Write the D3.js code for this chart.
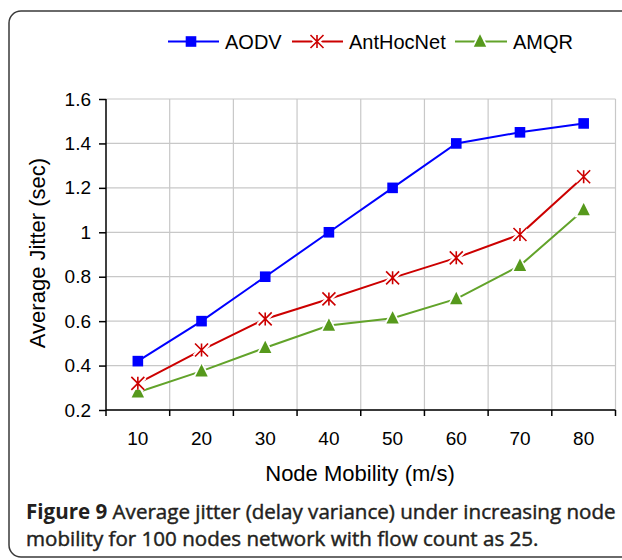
<!DOCTYPE html>
<html>
<head>
<meta charset="utf-8">
<script src="https://cdn.jsdelivr.net/npm/d3@7"></script>
<style>
  html, body { margin: 0; padding: 0; background: #fff; }
  svg { display: block; }
</style>
</head>
<body>
<svg id="chart" width="622" height="560"></svg>
<script>
// ---- data ----
const categories = [10, 20, 30, 40, 50, 60, 70, 80];
const aodv       = [0.42, 0.60, 0.80, 1.00, 1.20, 1.40, 1.45, 1.49];
const antHocNet  = [0.32, 0.47, 0.61, 0.70, 0.795, 0.885, 0.99, 1.25];
const amqr       = [0.28, 0.375, 0.48, 0.58, 0.613, 0.70, 0.85, 1.10];
const yTicks     = [0.2, 0.4, 0.6, 0.8, 1.0, 1.2, 1.4, 1.6];
const seriesNames = ["AODV", "AntHocNet", "AMQR"];
const xTitle = "Node Mobility (m/s)";
const yTitle = "Average Jitter (sec)";
const captionBold = "Figure 9";
const captionLine1 = " Average jitter (delay variance) under increasing node";
const captionLine2 = "mobility for 100 nodes network with flow count as 25.";

// ---- setup ----
const svg = d3.select("#chart");
const FONT = "'Liberation Sans', Arial, sans-serif";
const colors = { AODV: "#0000ff", AntHocNet: "#cc0000", AMQR: "#56991c" };
const lineColors = { AODV: "#0000ff", AntHocNet: "#cc0000", AMQR: "#62a32a" };

const x = d3.scaleBand().domain(categories).range([106, 615.5]).padding(0);
const y = d3.scaleLinear().domain([0.2, 1.6]).range([410, 99]);

// frame
svg.append("rect")
  .attr("x", 9).attr("y", 11).attr("width", 660).attr("height", 546)
  .attr("rx", 12).attr("ry", 12)
  .attr("fill", "none").attr("stroke", "#3a3a3a").attr("stroke-width", 1.5);

// grid
const grid = svg.append("g");
grid.selectAll("line.h").data(yTicks).join("line")
  .attr("x1", x.range()[0]).attr("x2", x.range()[1])
  .attr("y1", d => y(d)).attr("y2", d => y(d))
  .attr("stroke", "#c8c8c8").attr("stroke-width", 1.2);
const bounds = categories.map(c => x(c)).concat([x.range()[1]]);
grid.selectAll("line.v").data(bounds.slice(1)).join("line")
  .attr("x1", d => d).attr("x2", d => d)
  .attr("y1", y(1.6)).attr("y2", y(0.2))
  .attr("stroke", "#c8c8c8").attr("stroke-width", 1.2);

// y axis
const yAxis = d3.axisLeft(y).tickValues(yTicks).tickFormat(d3.format("~g"))
  .tickSize(7).tickPadding(8);
const gy = svg.append("g").attr("transform", `translate(${x.range()[0]},0)`).call(yAxis);
gy.select(".domain").attr("stroke", "#000").attr("stroke-width", 1.5).attr("d", `M-0,${y(1.6)}V${y(0.2)}`);
gy.selectAll(".tick line").attr("stroke", "#000").attr("stroke-width", 1.5);
gy.selectAll("text").attr("font-family", FONT).attr("font-size", 19).attr("fill", "#000");

// x axis (labels at band centers, ticks at band boundaries)
const xAxis = d3.axisBottom(x).tickSize(0).tickPadding(22);
const gx = svg.append("g").attr("transform", `translate(0,${y(0.2)})`).call(xAxis);
gx.select(".domain").attr("stroke", "#000").attr("stroke-width", 1.5).attr("d", `M${x.range()[0]},0H${x.range()[1]}`);
gx.selectAll("text").attr("font-family", FONT).attr("font-size", 19).attr("fill", "#000");
gx.selectAll("line.bt").data(bounds).join("line").attr("class", "bt")
  .attr("x1", d => d).attr("x2", d => d).attr("y1", 0).attr("y2", 6)
  .attr("stroke", "#000").attr("stroke-width", 1.5);

// axis titles
svg.append("text").attr("x", 360).attr("y", 481).attr("text-anchor", "middle")
  .attr("font-family", FONT).attr("font-size", 22).attr("fill", "#000").text(xTitle);
svg.append("text").attr("transform", `translate(45,253) rotate(-90)`).attr("text-anchor", "middle")
  .attr("font-family", FONT).attr("font-size", 22).attr("fill", "#000").text(yTitle);

// ---- markers ----
function drawMarker(g, name, cx, cy) {
  if (name === "AODV") {
    g.append("rect").attr("x", cx - 5.3).attr("y", cy - 5.3).attr("width", 10.6).attr("height", 10.6)
      .attr("fill", colors.AODV);
  } else if (name === "AntHocNet") {
    const r = 6.5;
    const p = `M${cx - r},${cy - r}L${cx + r},${cy + r}M${cx - r},${cy + r}L${cx + r},${cy - r}M${cx},${cy - r}L${cx},${cy + r}`;
    g.append("path").attr("d", p).attr("stroke", "#fff").attr("stroke-width", 6).attr("fill", "none");
    g.append("path").attr("d", p).attr("stroke", colors.AntHocNet).attr("stroke-width", 1.6).attr("fill", "none");
  } else {
    const s = 6.2;
    const tri = (k) => `M${cx},${cy - s * 1.15 - k}L${cx + s + k},${cy + s * 0.85 + k * 0.6}L${cx - s - k},${cy + s * 0.85 + k * 0.6}Z`;
    g.append("path").attr("d", tri(3)).attr("fill", "#fff");
    g.append("path").attr("d", tri(0)).attr("fill", colors.AMQR);
  }
}

// ---- series ----
const seriesData = { AODV: aodv, AntHocNet: antHocNet, AMQR: amqr };
const cx = c => x(c) + x.bandwidth() / 2;
const line = d3.line().x((d, i) => cx(categories[i])).y(d => y(d));
["AMQR", "AntHocNet", "AODV"].forEach(name => {
  const g = svg.append("g");
  g.append("path").datum(seriesData[name]).attr("d", line)
    .attr("fill", "none").attr("stroke", lineColors[name]).attr("stroke-width", 2);
  seriesData[name].forEach((v, i) => drawMarker(g, name, cx(categories[i]), y(v)));
});

// ---- legend ----
const legendItems = [
  { name: "AODV", x1: 168, x2: 219, mx: 191, tx: 225 },
  { name: "AntHocNet", x1: 292, x2: 343, mx: 317, tx: 349 },
  { name: "AMQR", x1: 455, x2: 507, mx: 480, tx: 513 }
];
const lg = svg.append("g");
legendItems.forEach(it => {
  const g = lg.append("g");
  g.append("line").attr("x1", it.x1).attr("x2", it.x2).attr("y1", 41.5).attr("y2", 41.5)
    .attr("stroke", lineColors[it.name]).attr("stroke-width", 2);
  drawMarker(g, it.name, it.mx, 41.5);
  g.append("text").attr("x", it.tx).attr("y", 48.5).attr("font-family", FONT).attr("font-size", 20)
    .attr("fill", "#000").text(it.name);
});

// ---- caption ----
const CAP_FONT = "'Open Sans', 'Noto Sans', sans-serif";
const cap1 = svg.append("text").attr("x", 26).attr("y", 519)
  .attr("font-family", CAP_FONT).attr("font-size", 17).attr("fill", "#231f20");
cap1.append("tspan").attr("font-weight", "bold").text(captionBold);
cap1.append("tspan").attr("font-weight", "normal")
  .attr("stroke", "#231f20").attr("stroke-width", 0.45).text(captionLine1);
const cap2 = svg.append("text").attr("x", 26).attr("y", 546)
  .attr("font-family", CAP_FONT).attr("font-size", 17).attr("fill", "#231f20")
  .attr("stroke", "#231f20").attr("stroke-width", 0.45)
  .attr("font-weight", "normal").text(captionLine2);
// fit line 1 to the reference width
const w1 = cap1.node().getComputedTextLength();
const fs = 17 * 590 / w1;
cap1.attr("font-size", fs);
cap2.attr("font-size", fs);
</script>
</body>
</html>
